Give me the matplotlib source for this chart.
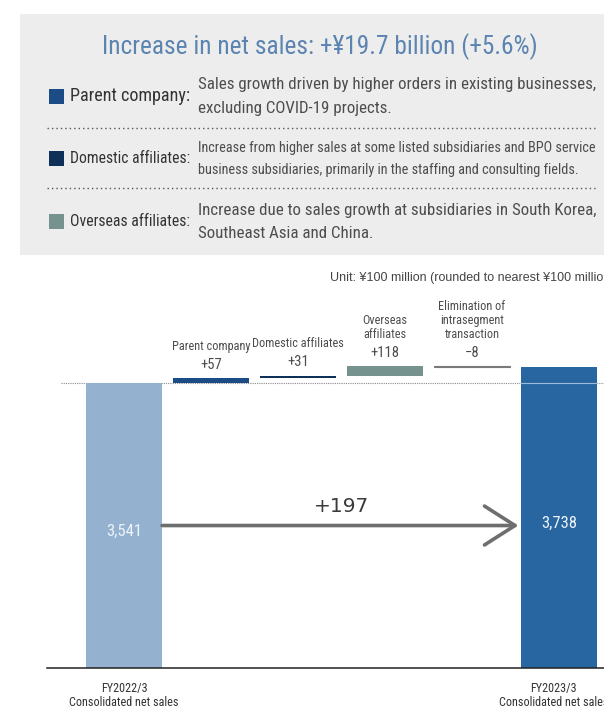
import numpy as np
import matplotlib.pyplot as plt
from matplotlib import font_manager
from matplotlib.patches import Rectangle

# =========================
# Data (unit: ¥100 million)
# =========================
start_label = "FY2022/3\nConsolidated net sales"
end_label = "FY2023/3\nConsolidated net sales"
start_value = 3541
end_value = 3738

step_names = ["Parent company", "Domestic affiliates", "Overseas\naffiliates",
              "Elimination of\nintrasegment\ntransaction"]
step_values = [57, 31, 118, -8]
step_texts = ["+57", "+31", "+118", "\u22128"]

headline = "Increase in net sales: +\u00a519.7 billion (+5.6%)"
unit_note = "Unit: \u00a5100 million (rounded to nearest \u00a5100 million)"
legend_names = ["Parent company:", "Domestic affiliates:", "Overseas affiliates:"]
legend_notes = [
    "Sales growth driven by higher orders in existing businesses,\nexcluding COVID-19 projects.",
    "Increase from higher sales at some listed subsidiaries and BPO service\n"
    "business subsidiaries, primarily in the staffing and consulting fields.",
    "Increase due to sales growth at subsidiaries in South Korea,\nSoutheast Asia and China.",
]

# =========================
# Styling
# =========================
start_color = "#94b2d0"
end_color = "#2866a2"
step_colors = ["#1b4c86", "#0e3059", "#76928f", "#7a7a7a"]
text_dark = "#333333"
text_mid = "#4d4d4d"


def pick_font(*names):
    available = {f.name for f in font_manager.fontManager.ttflist}
    for name in names:
        if name in available:
            return name
    return "DejaVu Sans"


NARROW = pick_font("Liberation Sans Narrow", "Roboto Condensed", "Open Sans Condensed",
                   "Liberation Sans")
REGULAR = pick_font("Liberation Sans", "DejaVu Sans")

W, H = 604, 708
fig = plt.figure(figsize=(W / 100, H / 100), dpi=100)


def fit_width(txt, target_px):
    # rescale a text so that it spans target_px pixels
    renderer = fig.canvas.get_renderer()
    bb = txt.get_window_extent(renderer)
    txt.set_fontsize(txt.get_fontsize() * target_px / bb.width)


# overlay in pixel coordinates for the summary panel
bg = fig.add_axes([0, 0, 1, 1])
bg.set_xlim(0, W)
bg.set_ylim(H, 0)
bg.axis("off")

bg.add_patch(Rectangle((20, 14), W - 20, 241, facecolor="#ededed", edgecolor="none"))
title = bg.text(320, 46.5, headline, ha="center", va="center", fontsize=17,
                family=NARROW, color="#5b84b1")
fit_width(title, 435)

row_y = [96, 158.5, 221.5]
note_y = [(85, 108), (148, 170), (211, 233)]
for i in range(3):
    bg.add_patch(Rectangle((49, row_y[i] - 7.5), 15, 15, facecolor=step_colors[i],
                           edgecolor="none"))
    name = bg.text(70, row_y[i], legend_names[i], ha="left", va="center", fontsize=12.5,
                   family=NARROW, color=text_dark)
    fit_width(name, 121)
    lines = legend_notes[i].split("\n")
    first = bg.text(198, note_y[i][0], lines[0], ha="left", va="center", fontsize=12,
                    family=NARROW, color=text_mid)
    fit_width(first, 397)
    bg.text(198, note_y[i][1], lines[1], ha="left", va="center",
            fontsize=first.get_fontsize(), family=NARROW, color=text_mid)

for y in (128.3, 188.3):
    bg.plot([47, 597], [y, y], color="#555555", lw=1, linestyle=(0, (1, 2.2)))

bg.text(330, 278, unit_note, ha="left", va="center", fontsize=9, family=REGULAR,
        color="#444444")

# =========================
# Waterfall
# =========================
ax = fig.add_axes([47 / W, 40 / H, (W - 47) / W, 406 / H])
ax.patch.set_alpha(0)

n_steps = len(step_values)
x = np.arange(n_steps + 2)
width = 0.874
bottoms = start_value + np.concatenate([[0], np.cumsum(step_values)[:-1]])

ax.bar(x[0], start_value, width=width, color=start_color, zorder=2)
ax.bar(x[-1], end_value, width=width, color=end_color, zorder=2)
for i, (b, v) in enumerate(zip(bottoms, step_values)):
    ax.bar(x[i + 1], v, bottom=b, width=width, color=step_colors[i],
           edgecolor=step_colors[i], linewidth=0.8 if v < 0 else 0, zorder=2)

    top = max(b, b + v)
    ax.annotate(step_texts[i], (x[i + 1], top), xytext=(0, 5), textcoords="offset points",
                ha="center", va="bottom", fontsize=10.5, family=NARROW, color=text_mid)
    ax.annotate(step_names[i], (x[i + 1], top), xytext=(0, 18.5), textcoords="offset points",
                ha="center", va="bottom", fontsize=8.8, family=NARROW, color=text_mid,
                linespacing=1.1)

# reference level of the previous year's total
ax.plot([x[0] - 0.72, x[-1] + 0.6], [start_value, start_value], color="#8a8a8a",
        lw=0.8, linestyle=(0, (1, 1)), zorder=1)
ax.plot([x[-1] - width / 2, x[-1] + width / 2], [start_value, start_value],
        color="#9fbbd8", lw=0.8, zorder=3)

# totals inside the bars
for xi, val in ((x[0], start_value), (x[-1], end_value)):
    ax.annotate(f"{val:,}", (xi, val / 2), xytext=(0, -4), textcoords="offset points",
                ha="center", va="center", fontsize=12, family=NARROW, color="#eef3f8",
                zorder=4)

# overall change arrow
arrow_y = start_value / 2
ax.annotate("", xy=(x[-1] - width / 2 - 0.03, arrow_y), xytext=(x[0] + width / 2, arrow_y),
            arrowprops=dict(arrowstyle="->,head_length=2.2,head_width=1.4", color="#6e6e6e",
                            lw=2.6, capstyle="round", joinstyle="round",
                            shrinkA=0, shrinkB=0), zorder=3)
ax.annotate(f"+{end_value - start_value}", ((x[0] + x[-1]) / 2, arrow_y), xytext=(0, 7),
            textcoords="offset points", ha="center", va="bottom", fontsize=14.5,
            family="DejaVu Sans", color="#3a3a3a")

# category labels under the totals
ax.annotate(start_label, (x[0], 0), xytext=(0, -10), textcoords="offset points",
            ha="center", va="top", fontsize=8.7, family=NARROW, color=text_dark,
            linespacing=1.15)
ax.annotate(end_label, (x[-1], 0), xytext=(-4, -10), textcoords="offset points",
            ha="center", va="top", fontsize=8.7, family=NARROW, color=text_dark,
            linespacing=1.15, annotation_clip=False)

ax.set_xlim(-0.885, 5.517)
ax.set_ylim(0, 5045)
for side in ("top", "right", "left"):
    ax.spines[side].set_visible(False)
ax.spines["bottom"].set_color("#222222")
ax.spines["bottom"].set_linewidth(1.1)
ax.set_xticks([])
ax.set_yticks([])

fig.savefig("out.png", dpi=100)
